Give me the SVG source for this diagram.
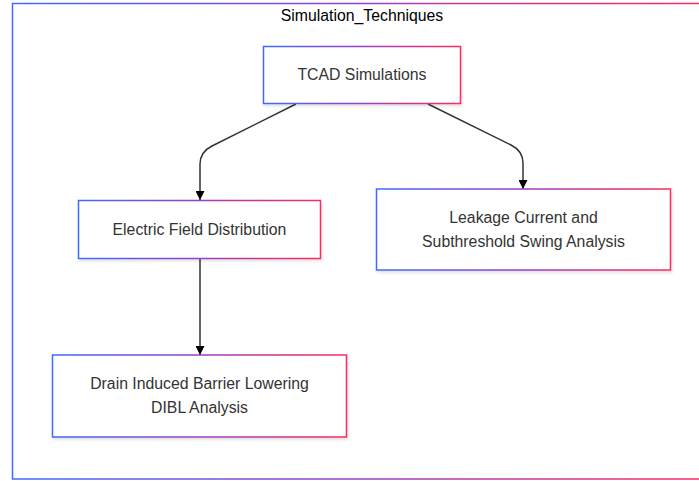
<svg xmlns="http://www.w3.org/2000/svg" width="699" height="481" viewBox="0 0 699 481">
<style>
  .node rect { fill: #ffffff; stroke: url(#grad); stroke-width: 1.5; filter: url(#shadow); }
  .label { font-family: "Liberation Sans", Arial, sans-serif; font-size: 15.8px; fill: #333333; text-anchor: middle; }
  .title { font-family: "Liberation Sans", Arial, sans-serif; font-size: 15.8px; fill: #000000; text-anchor: middle; }
  .edge { fill: none; stroke: #333333; stroke-width: 1.5; marker-end: url(#arrow); }
</style>
<defs>
  <linearGradient id="grad" x1="0" y1="0" x2="1" y2="0">
    <stop offset="0" stop-color="#3d6bff"/>
    <stop offset="0.5" stop-color="#9a3fc4"/>
    <stop offset="1" stop-color="#ff2a5c"/>
  </linearGradient>
  <filter id="shadow" x="-10%" y="-10%" width="120%" height="130%">
    <feDropShadow dx="1" dy="2" stdDeviation="1.5" flood-color="#000000" flood-opacity="0.12"/>
  </filter>
  <marker id="arrow" viewBox="0 0 10 10" refX="10" refY="5" markerWidth="9" markerHeight="9" markerUnits="userSpaceOnUse" orient="auto">
    <path d="M0,0 L10,5 L0,10 z" fill="#000000"/>
  </marker>
</defs>
<g id="cluster">
  <rect x="12.5" y="3.5" width="699" height="475.5" fill="#ffffff" stroke="url(#grad)" stroke-width="1.5"/>
  <text class="title" x="362" y="21">Simulation_Techniques</text>
</g>
<g id="connectors">
  <path class="edge" d="M296,104 L212,146 Q200,152 200,164 L200,200"/>
  <path class="edge" d="M428,104 L511,145 Q523,151 523,163 L523,189"/>
  <path class="edge" d="M200,258 L200,355"/>
</g>
<g id="node-tcad" class="node">
  <rect x="263.5" y="46.5" width="197" height="57"/>
  <text class="label" x="362" y="80">TCAD Simulations</text>
</g>
<g id="node-efd" class="node">
  <rect x="78.5" y="200.5" width="242" height="58"/>
  <text class="label" x="199.5" y="235">Electric Field Distribution</text>
</g>
<g id="node-leakage" class="node">
  <rect x="376.5" y="189" width="294" height="81"/>
  <text class="label" x="523.5" y="223">Leakage Current and</text>
  <text class="label" x="523.5" y="247">Subthreshold Swing Analysis</text>
</g>
<g id="node-dibl" class="node">
  <rect x="52.5" y="355" width="294" height="82"/>
  <text class="label" x="199.5" y="389">Drain Induced Barrier Lowering</text>
  <text class="label" x="199.5" y="413">DIBL Analysis</text>
</g>
</svg>
